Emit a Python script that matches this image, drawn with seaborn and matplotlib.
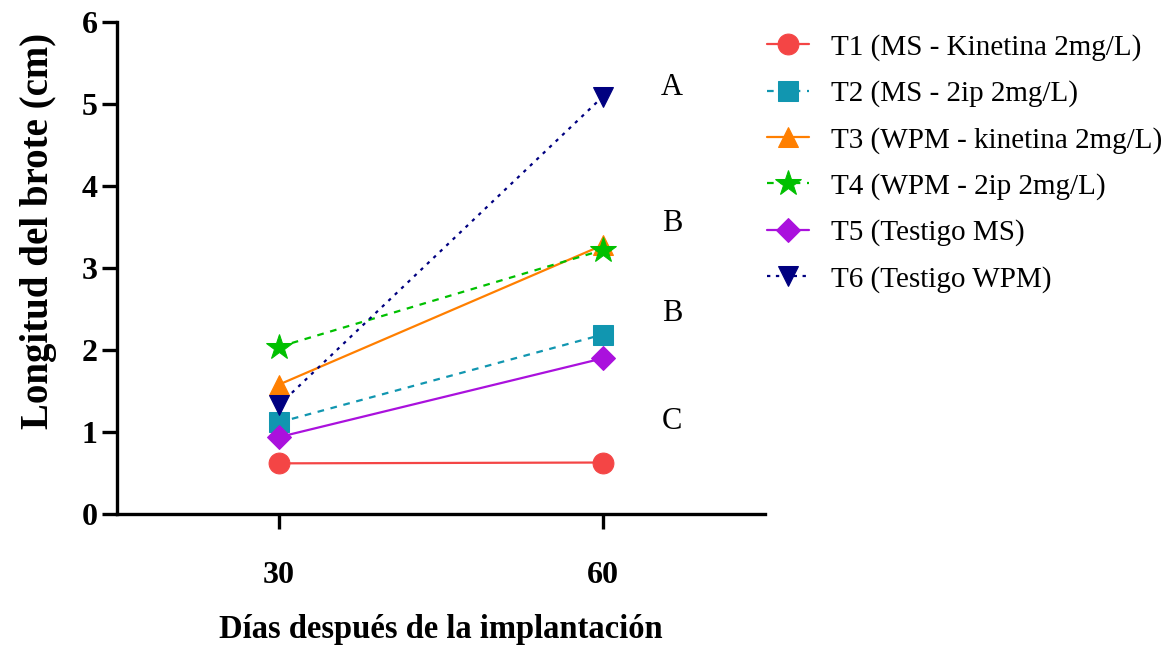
import matplotlib
matplotlib.use("Agg")
import matplotlib.pyplot as plt
import seaborn as sns
import pandas as pd

sns.set_theme(style="ticks")
plt.rcParams['font.family'] = ['Liberation Serif', 'DejaVu Serif']

days = [30, 60]
labels = ["T1 (MS - Kinetina 2mg/L)", "T2 (MS - 2ip 2mg/L)", "T3 (WPM - kinetina 2mg/L)",
          "T4 (WPM - 2ip 2mg/L)", "T5 (Testigo MS)", "T6 (Testigo WPM)"]
t1 = [0.62, 0.63]
t2 = [1.12, 2.19]
t3 = [1.58, 3.28]
t4 = [2.04, 3.22]
t5 = [0.94, 1.90]
t6 = [1.33, 5.09]
series = [t1, t2, t3, t4, t5, t6]
letters = ["A", "B", "B", "C"]
letter_y = [5.2, 3.54, 2.45, 1.13]

colors = ["#f44545", "#1196b0", "#ff7f00", "#00c000", "#aa11dd", "#000080"]
markers = ["o", "s", "^", "*", "D", "v"]
msizes = [15, 14, 15, 19, 12, 15]
styles = ["-", (0, (3, 3)), "-", (0, (3, 3)), "-", (0, (1.5, 2.5))]

fig = plt.figure(figsize=(11.71, 6.46), dpi=100)
ax = fig.add_axes([0.1, 0.204, 0.553, 0.762])

for lab, vals, c, m, ms, ls in zip(labels, series, colors, markers, msizes, styles):
    df = pd.DataFrame({"day": days, "val": vals})
    sns.lineplot(data=df, x="day", y="val", ax=ax, color=c, marker=m, markersize=ms,
                 markeredgecolor=c, linestyle=ls, linewidth=1.6, label=lab)

for l, y in zip(letters, letter_y):
    ax.text(66.4, y, l, fontsize=22, ha="center", va="center", color="black")

ax.set_xlim(15, 75)
ax.set_ylim(0, 6)
ax.set_xticks(days)
ax.set_yticks(range(0, 7))
for s in ["top", "right"]:
    ax.spines[s].set_visible(False)
for s in ["left", "bottom"]:
    ax.spines[s].set_linewidth(2.4)
    ax.spines[s].set_color("black")
ax.tick_params(axis="both", width=2.4, length=11, color="black", labelsize=23, labelcolor="black")
ax.tick_params(axis="y", pad=3)
ax.tick_params(axis="x", pad=23)
for t in ax.get_xticklabels() + ax.get_yticklabels():
    t.set_fontweight("bold")
ax.set_xlabel("Días después de la implantación", fontsize=23.5, fontweight="bold",
              labelpad=17, color="black")
ax.set_ylabel("Longitud del brote (cm)", fontsize=28, fontweight="bold", color="black")
ax.yaxis.set_label_coords(-0.093, 0.575)

leg = ax.legend(loc="upper left", bbox_to_anchor=(0.985, 1.0), frameon=False, fontsize=21,
                handlelength=1.47, labelspacing=0.67, handletextpad=0.75, borderaxespad=0)
for t in leg.get_texts():
    t.set_color("black")

fig.savefig("out.png", dpi=100)
